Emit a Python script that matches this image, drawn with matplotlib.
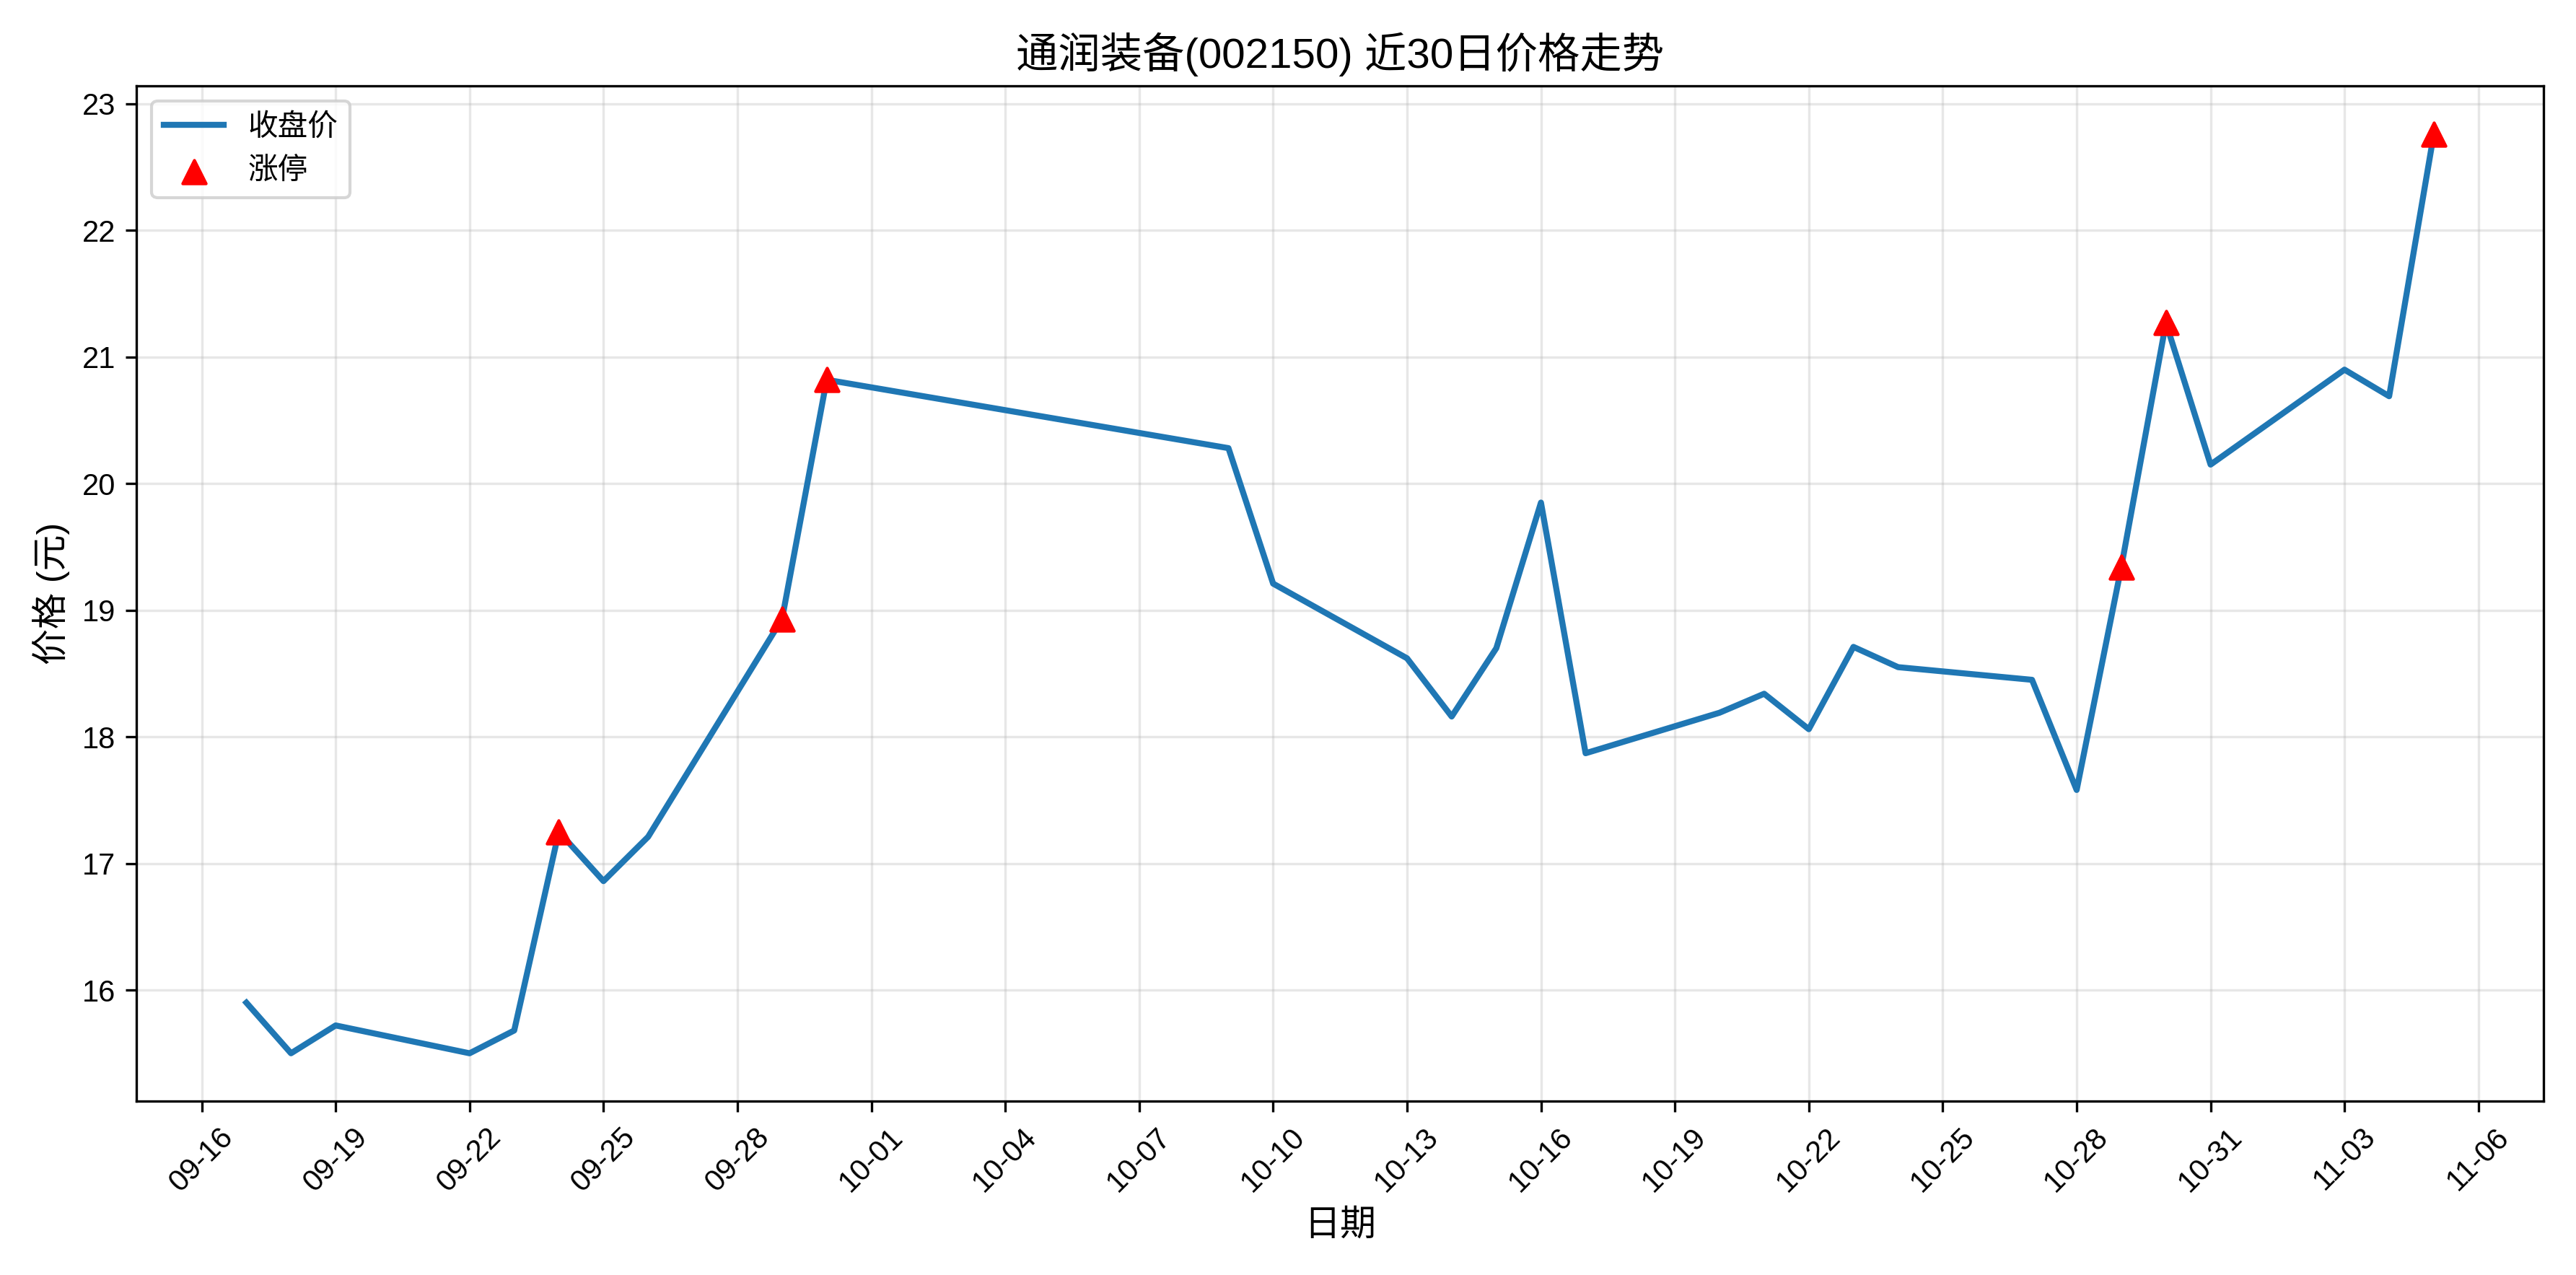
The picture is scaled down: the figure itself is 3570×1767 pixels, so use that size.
import matplotlib
matplotlib.use("Agg")
import matplotlib.pyplot as plt
import matplotlib.dates as mdates
import pandas as pd

plt.rcParams['font.family'] = ['Liberation Sans', 'Noto Sans CJK SC', 'DejaVu Sans']
plt.rcParams['axes.unicode_minus'] = False

dates = ["2025-09-17","2025-09-18","2025-09-19","2025-09-22","2025-09-23","2025-09-24","2025-09-25",
         "2025-09-26","2025-09-29","2025-09-30","2025-10-09","2025-10-10","2025-10-13","2025-10-14",
         "2025-10-15","2025-10-16","2025-10-17","2025-10-20","2025-10-21","2025-10-22","2025-10-23",
         "2025-10-24","2025-10-27","2025-10-28","2025-10-29","2025-10-30","2025-10-31","2025-11-03",
         "2025-11-04","2025-11-05"]
close = [15.90,15.50,15.72,15.50,15.68,17.25,16.86,17.21,18.93,20.82,20.28,19.21,18.62,18.16,
         18.70,19.85,17.87,18.19,18.34,18.06,18.71,18.55,18.45,17.58,19.34,21.27,20.15,20.90,
         20.69,22.76]
limit_dates = ["2025-09-24","2025-09-29","2025-09-30","2025-10-29","2025-10-30","2025-11-05"]
limit_prices = [17.25,18.93,20.82,19.34,21.27,22.76]
tick_dates = pd.date_range("2025-09-16", "2025-11-06", freq="3D")

d = pd.to_datetime(dates)
ld = pd.to_datetime(limit_dates)

fig, ax = plt.subplots(figsize=(11.9, 5.89), dpi=300)
ax.plot(d, close, color='#1f77b4', linewidth=2, label='收盘价')
ax.scatter(ld, limit_prices, color='red', marker='^', s=60, zorder=5, label='涨停')
ax.set_title('通润装备(002150) 近30日价格走势', fontsize=14)
ax.set_xlabel('日期', fontsize=12)
ax.set_ylabel('价格 (元)', fontsize=12)
ax.set_xticks(tick_dates)
ax.xaxis.set_major_formatter(mdates.DateFormatter('%m-%d'))
ax.set_xlim(pd.Timestamp("2025-09-14 13:00"), pd.Timestamp("2025-11-07 11:00"))
ax.set_ylim(15.12, 23.14)
plt.setp(ax.get_xticklabels(), rotation=45)
ax.grid(True, alpha=0.3)
ax.legend(loc='upper left')
fig.tight_layout()
fig.savefig('out.png', dpi=300)
